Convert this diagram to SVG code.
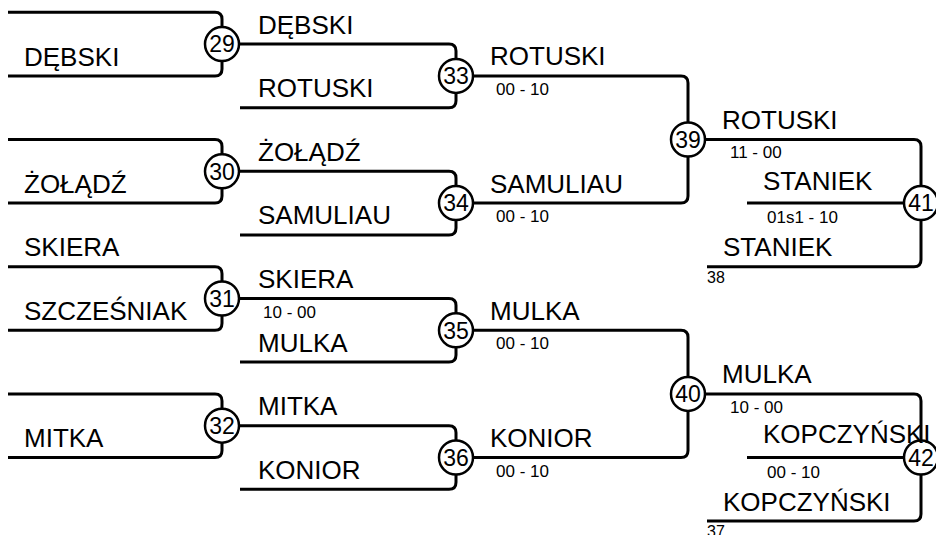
<svg xmlns="http://www.w3.org/2000/svg" width="936" height="535" viewBox="0 0 936 535">
<style>
.ln{fill:none;stroke:#000;stroke-width:3;stroke-linejoin:round}
.c{fill:#fff;stroke:#000;stroke-width:2.5}
.num{font-family:"Liberation Sans",Arial,sans-serif;font-size:23px;text-anchor:middle;fill:#000}
.nm{font-family:"Liberation Sans",Arial,sans-serif;font-size:26px;fill:#000}
.sc{font-family:"Liberation Sans",Arial,sans-serif;font-size:17px;fill:#000}
.sm{font-family:"Liberation Sans",Arial,sans-serif;font-size:16px;fill:#000}
</style>
<rect width="936" height="535" fill="#fff"/>
<g id="connectors" class="ln">
<path d="M8 12.3H215Q222 12.3 222 19.3V44.1M8 75.9H215Q222 75.9 222 68.9V44.1"/>
<path d="M8 139.5H215Q222 139.5 222 146.5V171.3M8 203.1H215Q222 203.1 222 196.1V171.3"/>
<path d="M8 266.7H215Q222 266.7 222 273.7V298.5M8 330.3H215Q222 330.3 222 323.3V298.5"/>
<path d="M8 393.9H215Q222 393.9 222 400.9V425.7M8 457.5H215Q222 457.5 222 450.5V425.7"/>
<path d="M222 44.1H449Q456 44.1 456 51.1V75.9M240 107.7H449Q456 107.7 456 100.7V75.9"/>
<path d="M222 171.3H449Q456 171.3 456 178.3V203.1M240 234.9H449Q456 234.9 456 227.9V203.1"/>
<path d="M222 298.5H449Q456 298.5 456 305.5V330.3M240 362.1H449Q456 362.1 456 355.1V330.3"/>
<path d="M222 425.7H449Q456 425.7 456 432.7V457.5M240 489.3H449Q456 489.3 456 482.3V457.5"/>
<path d="M456 75.9H681Q688 75.9 688 82.9V139.5M456 203.1H681Q688 203.1 688 196.1V139.5"/>
<path d="M456 330.3H681Q688 330.3 688 337.3V393.9M456 457.5H681Q688 457.5 688 450.5V393.9"/>
<path d="M688 139.5H914Q921 139.5 921 146.5V203.1M747 203.1H921M707 266.7H914Q921 266.7 921 259.7V203.1"/>
<path d="M688 393.9H914Q921 393.9 921 400.9V457.5M747 457.5H921M707 521.1H914Q921 521.1 921 514.1V457.5"/>
</g>
<g id="m29"><circle class="c" cx="222" cy="44.1" r="17"/><text class="num" x="222" y="52.3">29</text></g>
<g id="m30"><circle class="c" cx="222" cy="171.3" r="17"/><text class="num" x="222" y="179.5">30</text></g>
<g id="m31"><circle class="c" cx="222" cy="298.5" r="17"/><text class="num" x="222" y="306.7">31</text></g>
<g id="m32"><circle class="c" cx="222" cy="425.7" r="17"/><text class="num" x="222" y="433.9">32</text></g>
<g id="m33"><circle class="c" cx="456" cy="75.9" r="17"/><text class="num" x="456" y="84.1">33</text></g>
<g id="m34"><circle class="c" cx="456" cy="203.1" r="17"/><text class="num" x="456" y="211.3">34</text></g>
<g id="m35"><circle class="c" cx="456" cy="330.3" r="17"/><text class="num" x="456" y="338.5">35</text></g>
<g id="m36"><circle class="c" cx="456" cy="457.5" r="17"/><text class="num" x="456" y="465.7">36</text></g>
<g id="m39"><circle class="c" cx="688" cy="139.5" r="17"/><text class="num" x="688" y="147.7">39</text></g>
<g id="m40"><circle class="c" cx="688" cy="393.9" r="17"/><text class="num" x="688" y="402.1">40</text></g>
<g id="m41"><circle class="c" cx="921" cy="203.1" r="17"/><text class="num" x="921" y="211.3">41</text></g>
<g id="m42"><circle class="c" cx="921" cy="457.5" r="17"/><text class="num" x="921" y="465.7">42</text></g>
<g id="labels">
<text class="nm" x="24" y="65.6">DĘBSKI</text>
<text class="nm" x="24" y="192.8">ŻOŁĄDŹ</text>
<text class="nm" x="24" y="256">SKIERA</text>
<text class="nm" x="24" y="320">SZCZEŚNIAK</text>
<text class="nm" x="24" y="447.2">MITKA</text>
<text class="nm" x="258" y="33.6">DĘBSKI</text>
<text class="nm" x="258" y="97.2">ROTUSKI</text>
<text class="nm" x="258" y="160.8">ŻOŁĄDŹ</text>
<text class="nm" x="258" y="224.4">SAMULIAU</text>
<text class="nm" x="258" y="288">SKIERA</text>
<text class="sc" x="263" y="318">10 - 00</text>
<text class="nm" x="258" y="351.6">MULKA</text>
<text class="nm" x="258" y="415.2">MITKA</text>
<text class="nm" x="258" y="478.8">KONIOR</text>
<text class="nm" x="490" y="65.4">ROTUSKI</text>
<text class="sc" x="496" y="95">00 - 10</text>
<text class="nm" x="490" y="192.6">SAMULIAU</text>
<text class="sc" x="496" y="222">00 - 10</text>
<text class="nm" x="490" y="319.8">MULKA</text>
<text class="sc" x="496" y="349">00 - 10</text>
<text class="nm" x="490" y="447">KONIOR</text>
<text class="sc" x="496" y="476.5">00 - 10</text>
<text class="nm" x="722" y="129">ROTUSKI</text>
<text class="sc" x="730" y="158">11 - 00</text>
<text class="nm" x="763" y="189.5">STANIEK</text>
<text class="sc" x="767" y="223">01s1 - 10</text>
<text class="nm" x="723" y="256">STANIEK</text>
<text class="sm" x="707" y="283">38</text>
<text class="nm" x="722" y="383.4">MULKA</text>
<text class="sc" x="730" y="412.5">10 - 00</text>
<text class="nm" x="763" y="443">KOPCZYŃSKI</text>
<text class="sc" x="767" y="477.5">00 - 10</text>
<text class="nm" x="723" y="510.6">KOPCZYŃSKI</text>
<text class="sm" x="707" y="537">37</text>
</g>
</svg>
